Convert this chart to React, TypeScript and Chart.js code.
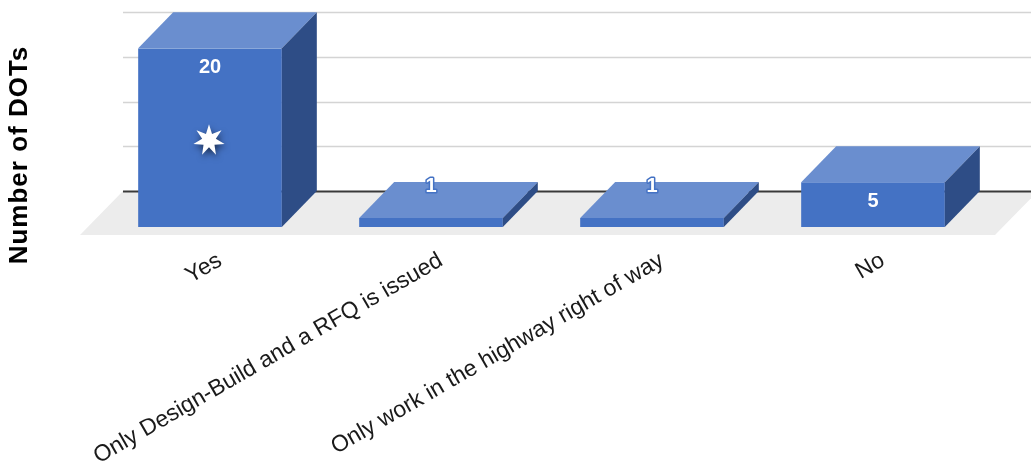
import React, { useEffect, useRef } from 'react';
import { Chart, registerables } from 'chart.js';

Chart.register(...registerables);

const categories = [
  'Yes',
  'Only Design-Build and a RFQ is issued',
  'Only work in the highway right of way',
  'No',
];
const dotCounts = [20, 1, 1, 5];
const axisTitle = 'Number of DOTs';
const yMin = 0;
const yMax = 20;
const gridStep = 5;
const starredCategory = 'Yes';

const FONT = '"Liberation Sans", Arial, Helvetica, sans-serif';
const FRONT = '#4472C4';
const TOP = '#6A8ECF';
const SIDE = '#2E4D86';
const DX = 35;
const DY = -36;

function drawStar(ctx: CanvasRenderingContext2D, cx: number, cy: number, ro: number, ri: number, n: number) {
  ctx.beginPath();
  for (let i = 0; i < n * 2; i++) {
    const r = i % 2 === 0 ? ro : ri;
    const a = -Math.PI / 2 + (i * Math.PI) / n;
    const px = cx + r * Math.cos(a);
    const py = cy + r * Math.sin(a);
    if (i === 0) ctx.moveTo(px, py);
    else ctx.lineTo(px, py);
  }
  ctx.closePath();
}

const threeD = {
  id: 'threeD',
  beforeDatasetsDraw(chart: any) {
    const { ctx, chartArea, scales } = chart;
    const y = scales.y;
    const base = y.getPixelForValue(0);
    const left = chartArea.left - 11.5;
    const right = chartArea.right + 19.5;
    ctx.save();
    // floor
    ctx.fillStyle = '#ececec';
    ctx.beginPath();
    ctx.moveTo(left - 8, base + 8);
    ctx.lineTo(left + DX, base + DY);
    ctx.lineTo(right + DX, base + DY);
    ctx.lineTo(right - 8, base + 8);
    ctx.closePath();
    ctx.fill();
    // back wall grid
    for (let v = yMin; v <= yMax; v += gridStep) {
      const yy = Math.round(y.getPixelForValue(v) + DY) + 0.5;
      ctx.beginPath();
      ctx.moveTo(left + DX, yy);
      ctx.lineTo(chart.width, yy);
      if (v === 0) {
        ctx.strokeStyle = '#3a3a3a';
        ctx.lineWidth = 2;
      } else {
        ctx.strokeStyle = '#d4d4d4';
        ctx.lineWidth = 1.5;
      }
      ctx.stroke();
    }
    ctx.restore();
  },
  afterDatasetsDraw(chart: any) {
    const { ctx } = chart;
    const meta = chart.getDatasetMeta(0);
    ctx.save();
    meta.data.forEach((bar: any) => {
      const { x, y, base, width } = bar.getProps(['x', 'y', 'base', 'width'], true);
      const l = x - width / 2;
      const r = x + width / 2;
      // top face
      ctx.fillStyle = TOP;
      ctx.beginPath();
      ctx.moveTo(l, y);
      ctx.lineTo(r, y);
      ctx.lineTo(r + DX, y + DY);
      ctx.lineTo(l + DX, y + DY);
      ctx.closePath();
      ctx.fill();
      // side face
      ctx.fillStyle = SIDE;
      ctx.beginPath();
      ctx.moveTo(r, y);
      ctx.lineTo(r + DX, y + DY);
      ctx.lineTo(r + DX, base + DY);
      ctx.lineTo(r, base);
      ctx.closePath();
      ctx.fill();
    });
    // value labels
    ctx.font = `bold 20px ${FONT}`;
    ctx.textAlign = 'center';
    ctx.textBaseline = 'middle';
    ctx.lineJoin = 'round';
    meta.data.forEach((bar: any, i: number) => {
      const { x, y, base } = bar.getProps(['x', 'y', 'base'], true);
      const h = base - y;
      const ly = h < 30 ? y - 32 : y + 19;
      const txt = String(dotCounts[i]);
      ctx.strokeStyle = FRONT;
      ctx.lineWidth = 3;
      ctx.strokeText(txt, x, ly);
      ctx.fillStyle = '#ffffff';
      ctx.fillText(txt, x, ly);
    });
    // star marker
    const si = categories.indexOf(starredCategory);
    if (si >= 0) {
      const bar = meta.data[si];
      const { x, y, base } = bar.getProps(['x', 'y', 'base'], true);
      ctx.save();
      ctx.shadowColor = 'rgba(0,0,0,0.55)';
      ctx.shadowBlur = 6;
      ctx.shadowOffsetX = 1;
      ctx.shadowOffsetY = 3;
      ctx.fillStyle = '#ffffff';
      drawStar(ctx, x - 1, y + (base - y) * 0.515, 16, 7, 7);
      ctx.fill();
      ctx.restore();
    }
    ctx.restore();
  },
  afterDraw(chart: any) {
    const { ctx } = chart;
    ctx.save();
    ctx.translate(20, 155);
    ctx.rotate(-Math.PI / 2);
    ctx.font = `bold 26px ${FONT}`;
    (ctx as any).letterSpacing = '1px';
    ctx.fillStyle = '#000000';
    ctx.textAlign = 'center';
    ctx.textBaseline = 'middle';
    ctx.fillText(axisTitle, 0, 0);
    ctx.restore();
  },
};

export default function App() {
  const canvasRef = useRef<HTMLCanvasElement | null>(null);

  useEffect(() => {
    if (!canvasRef.current) return;
    const chart = new Chart(canvasRef.current, {
      type: 'bar',
      data: {
        labels: categories,
        datasets: [
          {
            label: axisTitle,
            data: dotCounts,
            backgroundColor: FRONT,
            borderWidth: 0,
            barPercentage: 0.65,
            categoryPercentage: 1,
          },
        ],
      },
      options: {
        animation: false,
        responsive: true,
        maintainAspectRatio: false,
        layout: { padding: { left: 99.5, right: 47.5, top: 48.3, bottom: 0 } },
        plugins: { legend: { display: false }, tooltip: { enabled: false } },
        scales: {
          x: {
            grid: { display: false },
            border: { display: false },
            ticks: {
              autoSkip: false,
              minRotation: 30,
              maxRotation: 30,
              labelOffset: 10,
              padding: 12,
              color: '#1a1a1a',
              font: { family: FONT, size: 23 },
            },
            afterFit: (s: any) => {
              s.height = 236;
            },
          },
          y: { display: false, min: yMin, max: yMax },
        },
      },
      plugins: [threeD],
    });
    return () => chart.destroy();
  }, []);

  return (
    <div style={{ position: 'fixed', left: 0, top: 0, width: 1031, height: 463, background: '#ffffff' }}>
      <canvas ref={canvasRef} />
    </div>
  );
}
